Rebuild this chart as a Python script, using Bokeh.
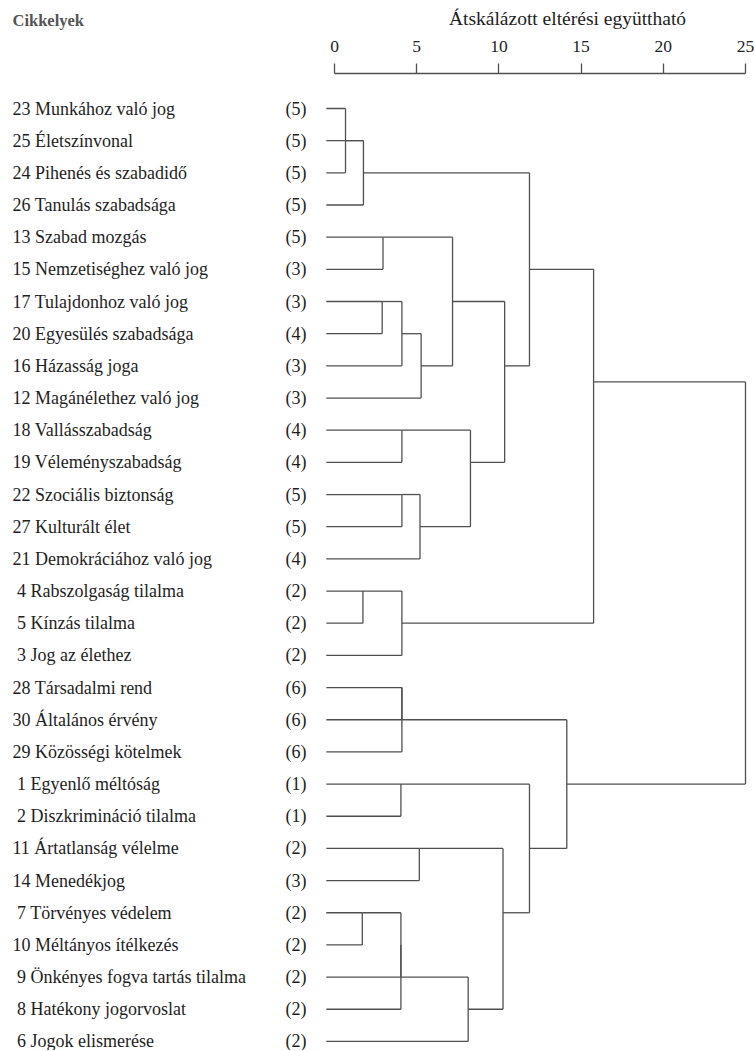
import math
from bokeh.plotting import figure
from bokeh.layouts import column
from bokeh.models import Range1d, FixedTicker
from bokeh.core.properties import value
from bokeh.embed import file_html
from bokeh.resources import INLINE

# ---------------- data ----------------
leaf_numbers = [23, 25, 24, 26, 13, 15, 17, 20, 16, 12, 18, 19, 22, 27, 21,
                4, 5, 3, 28, 30, 29, 1, 2, 11, 14, 7, 10, 9, 8, 6]
leaf_names = ["Munkához való jog", "Életszínvonal", "Pihenés és szabadidő",
              "Tanulás szabadsága", "Szabad mozgás", "Nemzetiséghez való jog",
              "Tulajdonhoz való jog", "Egyesülés szabadsága", "Házasság joga",
              "Magánélethez való jog", "Vallásszabadság", "Véleményszabadság",
              "Szociális biztonság", "Kulturált élet", "Demokráciához való jog",
              "Rabszolgaság tilalma", "Kínzás tilalma", "Jog az élethez",
              "Társadalmi rend", "Általános érvény", "Közösségi kötelmek",
              "Egyenlő méltóság", "Diszkrimináció tilalma", "Ártatlanság vélelme",
              "Menedékjog", "Törvényes védelem", "Méltányos ítélkezés",
              "Önkényes fogva tartás tilalma", "Hatékony jogorvoslat",
              "Jogok elismerése"]
leaf_groups = [5, 5, 5, 5, 5, 3, 3, 4, 3, 3, 4, 4, 5, 5, 4,
               2, 2, 2, 6, 6, 6, 1, 1, 2, 3, 2, 2, 2, 2, 2]

# agglomeration schedule: leaves are 0..29, merge k creates cluster 30+k
merge_left = [0, 30, 31, 4, 6, 34, 35, 33, 10, 12, 39, 38, 37, 32, 15, 44, 43,
              18, 47, 21, 23, 25, 51, 52, 53, 50, 49, 48, 46]
merge_right = [2, 1, 3, 5, 7, 8, 9, 36, 11, 13, 14, 40, 41, 42, 16, 17, 45,
               19, 20, 22, 24, 26, 27, 28, 29, 54, 55, 56, 57]
merge_dist = [0.67, 1.76, 1.76, 2.95, 2.9, 4.1, 5.27, 7.18, 4.1, 4.1, 5.2, 8.27,
              10.35, 11.86, 1.73, 4.1, 15.76, 4.1, 4.1, 4.04, 5.16, 1.69, 4.04,
              4.04, 8.13, 10.25, 11.86, 14.13, 25.0]
axis_ticks = [0, 5, 10, 15, 20, 25]
y_title = "Átskálázott eltérési együttható"
row_title = "Cikkelyek"

# ---------------- layout constants ----------------
W = 754
HEAD_H = 30          # header strip with the two titles
H = 1020             # main figure height
ZERO_PX = 334.0      # px of distance 0
UNIT_PX = 16.44      # px per distance unit
ROW_PX = 32.17       # px per row
FRAME_TOP = 43       # main-figure px of the axis line
ROW0_PX = 78.0       # main-figure px of first row
LEAF_START = -0.5    # leaf lines start slightly left of 0
SPAN_MID = {16}      # merges drawn at the middle of their leaf span
FONT = "Liberation Serif"

def xd(px):
    return (px - ZERO_PX) / UNIT_PX

y_top = -(ROW0_PX - FRAME_TOP) / ROW_PX
y_bottom = y_top + (H - FRAME_TOP) / ROW_PX

# ---------------- dendrogram geometry from the schedule ----------------
n = len(leaf_numbers)
pos = {i: float(i) for i in range(n)}
xend = {i: LEAF_START for i in range(n)}
span = {i: (i, i) for i in range(n)}
x0s, y0s, x1s, y1s = [], [], [], []
for k, (a, b, d) in enumerate(zip(merge_left, merge_right, merge_dist)):
    for c in (a, b):
        x0s.append(xend[c]); x1s.append(d); y0s.append(pos[c]); y1s.append(pos[c])
    x0s.append(d); x1s.append(d); y0s.append(pos[a]); y1s.append(pos[b])
    node = n + k
    span[node] = (min(span[a][0], span[b][0]), max(span[a][1], span[b][1]))
    if k in SPAN_MID:
        pos[node] = (span[node][0] + span[node][1]) / 2.0
    else:
        pos[node] = float(math.floor((pos[a] + pos[b]) / 2.0))
    xend[node] = d

# ---------------- header strip ----------------
head = figure(width=W, height=HEAD_H, output_backend="svg", toolbar_location=None,
              x_range=Range1d(xd(0), xd(W)), y_range=Range1d(HEAD_H, 0),
              x_axis_location=None, y_axis_location=None,
              min_border_left=0, min_border_right=0, min_border_bottom=0,
              min_border_top=0)
head.outline_line_color = None
head.xgrid.visible = False
head.ygrid.visible = False
head.text(x=[xd(12)], y=[20], text=[row_title], text_font=value(FONT),
          text_font_size="16.5px", text_font_style="bold", text_color="#555555",
          text_baseline="middle", text_align="left")
head.text(x=[xd(567)], y=[18], text=[y_title], text_font=value(FONT),
          text_font_size="19.5px", text_color="#1e1e1e",
          text_baseline="middle", text_align="center")

# ---------------- main dendrogram ----------------
p = figure(width=W, height=H, output_backend="svg", toolbar_location=None,
           x_range=Range1d(xd(0), xd(W)), y_range=Range1d(y_bottom, y_top),
           x_axis_location="above", y_axis_location=None,
           min_border_left=0, min_border_right=0, min_border_bottom=0,
           min_border_top=FRAME_TOP)
p.outline_line_color = None
p.xgrid.visible = False
p.ygrid.visible = False

ax = p.xaxis[0]
ax.ticker = FixedTicker(ticks=axis_ticks)
ax.bounds = (axis_ticks[0], axis_ticks[-1])
ax.major_tick_in = 0
ax.major_tick_out = 10
ax.minor_tick_line_color = None
ax.axis_line_color = "#505050"
ax.axis_line_width = 1.3
ax.major_tick_line_color = "#505050"
ax.major_tick_line_width = 1.3
ax.major_label_text_font = FONT
ax.major_label_text_font_size = "17.5px"
ax.major_label_text_color = "#222222"
ax.major_label_standoff = 12

p.segment(x0=x0s, y0=y0s, x1=x1s, y1=y1s, line_color="#505050", line_width=1.3)

labels = [("\u2005" if num < 10 else "") + f"{num} {name}"
          for num, name in zip(leaf_numbers, leaf_names)]
rows = list(range(n))
p.text(x=[xd(12)] * n, y=rows, text=labels, text_font=value(FONT),
       text_font_size="18px", text_color="#1e1e1e", text_baseline="middle",
       text_align="left")
p.text(x=[xd(285)] * n, y=rows, text=[f"({g})" for g in leaf_groups],
       text_font=value(FONT), text_font_size="18px",
       text_color="#1e1e1e", text_baseline="middle", text_align="left")

layout = column(head, p, spacing=0)
open("out.html", "w").write(file_html(layout, INLINE))
